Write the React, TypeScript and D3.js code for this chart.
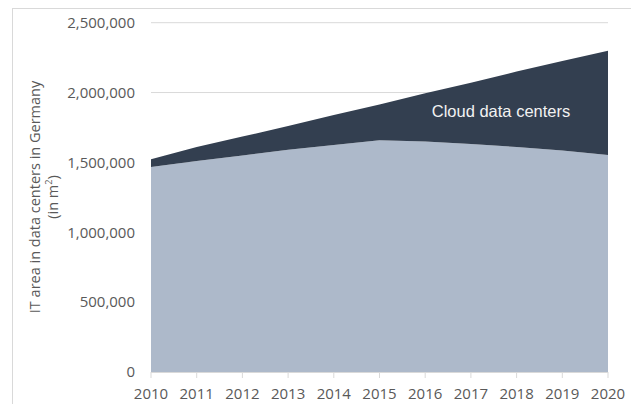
import React from 'react';
import * as d3 from 'd3';

// years on the x axis
const years = [2010, 2011, 2012, 2013, 2014, 2015, 2016, 2017, 2018, 2019, 2020];
// IT area in m², traditional (non-cloud) data centers
const otherArea = [1467000, 1510000, 1550000, 1590000, 1625000, 1658000, 1650000, 1632000, 1610000, 1585000, 1553000];
// IT area in m², cloud data centers (stacked on top)
const cloudArea = [56000, 100000, 135000, 170000, 215000, 257000, 345000, 438000, 540000, 640000, 747000];
const yTicks = [0, 500000, 1000000, 1500000, 2000000, 2500000];

const W = 631;
const H = 404;
const font = '"Open Sans", sans-serif';
const grey = '#595959';
const gridColor = '#d9d9d9';

export default function App() {
  const x = d3.scaleLinear().domain([2010, 2020]).range([151, 608]);
  const y = d3.scaleLinear().domain([0, 2500000]).range([372, 22.7]);

  const rows = years.map((yr, i) => ({ year: yr, other: otherArea[i], cloud: cloudArea[i] }));
  const stacked = d3.stack<any>().keys(['other', 'cloud'])(rows);

  const area = d3.area<any>()
    .x(d => x(d.data.year))
    .y0(d => y(d[0]))
    .y1(d => y(d[1]));

  const colors = ['#adb9ca', '#333f50'];
  const fmt = d3.format(',');

  return (
    <svg width={W} height={H} style={{ position: 'absolute', left: 0, top: 0, background: '#fff' }}>
      {/* outer frame */}
      <rect x={12.5} y={8.5} width={700} height={500} fill="none" stroke={gridColor} />

      {/* gridlines */}
      {yTicks.map(t => (
        <line key={t} x1={151} x2={608} y1={y(t)} y2={y(t)} stroke={gridColor} strokeWidth={1} />
      ))}

      {/* stacked areas */}
      {stacked.map((s, i) => (
        <path key={s.key} d={area(s) || ''} fill={colors[i]} />
      ))}

      {/* x axis line and ticks */}
      <line x1={151} x2={608} y1={372.5} y2={372.5} stroke={gridColor} />
      {years.map(yr => (
        <line key={yr} x1={x(yr)} x2={x(yr)} y1={372} y2={378} stroke={gridColor} />
      ))}

      {/* y tick labels */}
      {yTicks.map(t => (
        <text key={t} x={135} y={y(t)} dy="0.35em" textAnchor="end"
          fontFamily={font} fontSize={15} fill={grey}>{fmt(t)}</text>
      ))}

      {/* x tick labels */}
      {years.map(yr => (
        <text key={yr} x={x(yr)} y={399} textAnchor="middle"
          fontFamily={font} fontSize={15} fill={grey}>{yr}</text>
      ))}

      {/* y axis title */}
      <g transform="translate(40,197) rotate(-90)">
        <text x={0} y={0} textAnchor="middle" fontFamily={font} fontSize={14.5} fill={grey}>
          IT area in data centers in Germany
        </text>
        <text x={0} y={18} textAnchor="middle" fontFamily={font} fontSize={14.5} fill={grey}>
          (in m<tspan baselineShift="super" fontSize={9}>2</tspan>)
        </text>
      </g>

      {/* series label */}
      <text x={501} y={117} textAnchor="middle" fontFamily='"Liberation Sans", Arial, sans-serif'
        fontSize={16.5} fill="#f2f2f2">Cloud data centers</text>
    </svg>
  );
}
